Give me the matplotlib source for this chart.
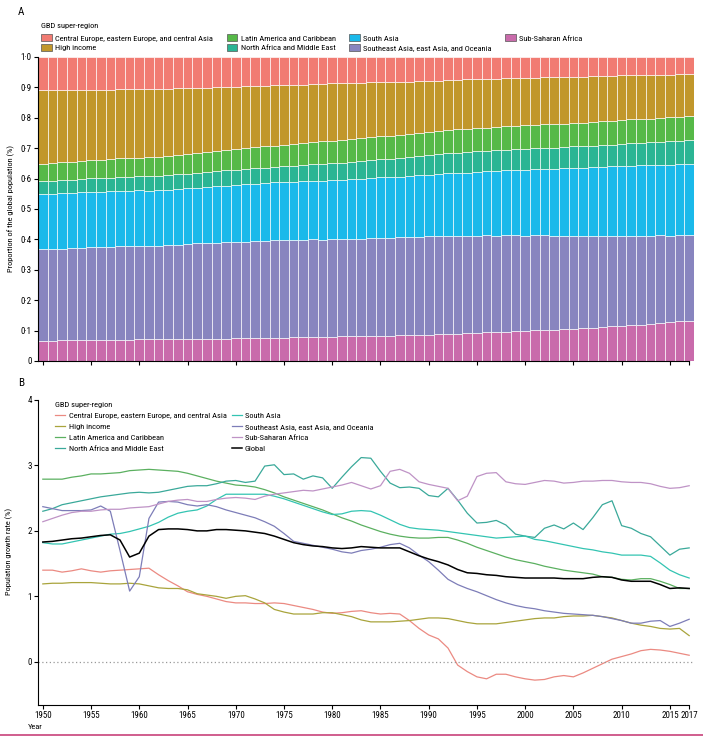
import numpy as np
import matplotlib
matplotlib.use("Agg")
from matplotlib import pyplot as plt
from matplotlib.lines import Line2D
from matplotlib.patches import Patch

plt.rcParams['font.family'] = ['Roboto Condensed', 'Liberation Sans Narrow', 'Lato', 'DejaVu Sans']
plt.rcParams['font.size'] = 6

years = list(range(1950, 2018))

regions = ["Central Europe, eastern Europe, and central Asia", "High income",
           "Latin America and Caribbean", "North Africa and Middle East",
           "South Asia", "Southeast Asia, east Asia, and Oceania", "Sub-Saharan Africa"]

# share of global population (panel A)
share_ce = [.109, .109, .108, .108, .108, .107, .107, .107, .106, .106,
            .105, .105, .104, .104, .103, .103, .102, .101, .100, .099,
            .098, .097, .096, .095, .094, .093, .092, .091, .090, .089,
            .087, .087, .086, .085, .084, .083, .083, .082, .081, .080,
            .079, .078, .076, .075, .074, .073, .072, .071, .070, .070,
            .069, .068, .067, .067, .066, .065, .065, .064, .063, .062,
            .061, .060, .060, .059, .058, .058, .057, .056]
share_hi = [.243, .241, .239, .237, .235, .233, .231, .229, .228, .227,
            .226, .225, .223, .221, .219, .217, .214, .212, .210, .208,
            .206, .204, .202, .200, .198, .196, .194, .192, .190, .189,
            .188, .186, .184, .182, .180, .178, .176, .174, .172, .170,
            .168, .166, .164, .163, .162, .161, .160, .159, .158, .157,
            .157, .156, .155, .155, .154, .153, .152, .151, .150, .149,
            .148, .146, .145, .144, .142, .141, .139, .138]
share_la = [.056, .057, .057, .058, .058, .059, .059, .060, .061, .061,
            .062, .062, .063, .063, .064, .064, .065, .066, .066, .067,
            .068, .068, .069, .070, .070, .071, .072, .073, .073, .074,
            .075, .075, .075, .076, .076, .076, .076, .077, .077, .077,
            .077, .077, .077, .077, .077, .077, .077, .077, .077, .077,
            .077, .077, .077, .077, .077, .077, .077, .078, .078, .078,
            .078, .078, .078, .078, .079, .079, .079, .079]
share_name = [.043, .043, .044, .044, .044, .045, .045, .045, .046, .046,
              .046, .047, .047, .047, .048, .048, .049, .049, .050, .050,
              .051, .051, .051, .052, .052, .053, .053, .054, .054, .055,
              .055, .056, .057, .058, .059, .060, .061, .062, .062, .063,
              .064, .065, .066, .066, .067, .067, .067, .068, .068, .068,
              .069, .069, .069, .069, .070, .070, .071, .071, .072, .072,
              .073, .074, .074, .075, .076, .077, .078, .079]
share_sa = [.182, .182, .182, .182, .182, .182, .182, .182, .182, .183,
            .183, .183, .183, .183, .183, .184, .184, .185, .186, .187,
            .188, .189, .190, .190, .191, .192, .192, .193, .193, .194,
            .194, .195, .196, .197, .198, .199, .200, .201, .202, .203,
            .203, .204, .205, .207, .208, .210, .211, .213, .214, .216,
            .217, .218, .220, .221, .223, .225, .226, .227, .228, .229,
            .230, .231, .231, .232, .232, .233, .233, .234]
share_sea = [.300, .301, .302, .303, .304, .305, .306, .307, .308, .308,
             .307, .306, .307, .308, .310, .312, .314, .315, .316, .317,
             .318, .319, .320, .320, .321, .321, .321, .321, .321, .321,
             .321, .321, .321, .321, .322, .322, .322, .323, .323, .323,
             .323, .323, .323, .322, .321, .320, .319, .318, .317, .316,
             .315, .313, .312, .310, .309, .307, .305, .303, .301, .299,
             .297, .295, .293, .291, .289, .286, .284, .281]
share_ssa = [.067, .067, .068, .068, .068, .069, .069, .069, .070, .070,
             .071, .071, .071, .072, .072, .073, .073, .073, .074, .074,
             .075, .075, .076, .076, .077, .077, .078, .078, .079, .079,
             .080, .081, .081, .082, .083, .084, .084, .085, .086, .087,
             .087, .088, .089, .090, .091, .093, .094, .095, .097, .098,
             .099, .101, .102, .103, .105, .107, .108, .110, .112, .114,
             .116, .118, .120, .122, .125, .127, .130, .133]

# population growth rate, % (panel B)
gr_ce = [1.40, 1.40, 1.37, 1.39, 1.42, 1.39, 1.37, 1.39, 1.40, 1.41,
         1.42, 1.43, 1.33, 1.24, 1.16, 1.07, 1.03, 1.00, 0.96, 0.92,
         0.90, 0.90, 0.89, 0.89, 0.90, 0.89, 0.86, 0.83, 0.80, 0.76,
         0.74, 0.75, 0.77, 0.78, 0.75, 0.73, 0.74, 0.73, 0.63, 0.51,
         0.41, 0.35, 0.21, -0.05, -0.15, -0.23, -0.26, -0.19, -0.19, -0.23,
         -0.26, -0.28, -0.27, -0.23, -0.21, -0.23, -0.17, -0.10, -0.03, 0.04,
         0.08, 0.12, 0.17, 0.19, 0.18, 0.16, 0.13, 0.10]
gr_hi = [1.19, 1.20, 1.20, 1.21, 1.21, 1.21, 1.20, 1.19, 1.19, 1.20,
         1.19, 1.16, 1.13, 1.12, 1.12, 1.10, 1.04, 1.02, 1.00, 0.97,
         1.00, 1.01, 0.96, 0.90, 0.80, 0.76, 0.73, 0.73, 0.73, 0.75,
         0.75, 0.72, 0.69, 0.64, 0.61, 0.61, 0.61, 0.62, 0.63, 0.65,
         0.67, 0.67, 0.66, 0.63, 0.60, 0.58, 0.58, 0.58, 0.60, 0.62,
         0.64, 0.66, 0.67, 0.67, 0.69, 0.70, 0.70, 0.71, 0.69, 0.67,
         0.63, 0.59, 0.56, 0.54, 0.51, 0.50, 0.51, 0.40]
gr_la = [2.79, 2.79, 2.79, 2.82, 2.84, 2.87, 2.87, 2.88, 2.89, 2.92,
         2.93, 2.94, 2.93, 2.92, 2.91, 2.88, 2.84, 2.80, 2.76, 2.73,
         2.70, 2.69, 2.67, 2.63, 2.58, 2.52, 2.47, 2.42, 2.37, 2.32,
         2.26, 2.20, 2.15, 2.09, 2.04, 1.99, 1.95, 1.92, 1.90, 1.89,
         1.89, 1.90, 1.90, 1.86, 1.81, 1.75, 1.70, 1.65, 1.60, 1.56,
         1.53, 1.50, 1.46, 1.43, 1.40, 1.38, 1.36, 1.34, 1.30, 1.29,
         1.26, 1.25, 1.27, 1.27, 1.23, 1.18, 1.12, 1.12]
gr_name = [2.30, 2.34, 2.40, 2.43, 2.46, 2.49, 2.52, 2.54, 2.56, 2.58,
           2.59, 2.58, 2.59, 2.62, 2.65, 2.68, 2.69, 2.69, 2.72, 2.76,
           2.77, 2.74, 2.76, 2.99, 3.01, 2.86, 2.87, 2.79, 2.84, 2.81,
           2.65, 2.82, 2.98, 3.12, 3.11, 2.91, 2.73, 2.66, 2.67, 2.65,
           2.54, 2.52, 2.65, 2.47, 2.27, 2.12, 2.13, 2.16, 2.09, 1.95,
           1.92, 1.90, 2.04, 2.09, 2.03, 2.12, 2.02, 2.20, 2.40, 2.46,
           2.08, 2.04, 1.96, 1.91, 1.77, 1.63, 1.72, 1.74]
gr_sa = [1.82, 1.80, 1.80, 1.83, 1.86, 1.89, 1.92, 1.95, 1.96, 1.99,
         2.03, 2.07, 2.13, 2.21, 2.27, 2.30, 2.32, 2.38, 2.48, 2.56,
         2.56, 2.56, 2.56, 2.56, 2.53, 2.49, 2.44, 2.39, 2.34, 2.29,
         2.25, 2.26, 2.30, 2.31, 2.30, 2.24, 2.17, 2.10, 2.05, 2.03,
         2.02, 2.01, 1.99, 1.97, 1.95, 1.93, 1.91, 1.89, 1.90, 1.91,
         1.92, 1.87, 1.85, 1.82, 1.79, 1.76, 1.73, 1.71, 1.68, 1.66,
         1.63, 1.63, 1.63, 1.61, 1.51, 1.40, 1.33, 1.28]
gr_sea = [2.37, 2.34, 2.31, 2.31, 2.31, 2.32, 2.38, 2.30, 1.70, 1.08,
          1.30, 2.19, 2.44, 2.45, 2.44, 2.40, 2.38, 2.40, 2.37, 2.32,
          2.28, 2.24, 2.20, 2.14, 2.07, 1.96, 1.84, 1.81, 1.78, 1.75,
          1.72, 1.68, 1.66, 1.70, 1.72, 1.75, 1.79, 1.81, 1.74, 1.63,
          1.53, 1.40, 1.26, 1.18, 1.12, 1.07, 1.01, 0.95, 0.90, 0.86,
          0.83, 0.81, 0.78, 0.76, 0.74, 0.73, 0.72, 0.71, 0.69, 0.66,
          0.63, 0.59, 0.59, 0.62, 0.63, 0.54, 0.59, 0.65]
gr_ssa = [2.14, 2.19, 2.24, 2.28, 2.30, 2.30, 2.32, 2.33, 2.33, 2.35,
          2.36, 2.37, 2.41, 2.45, 2.47, 2.48, 2.45, 2.45, 2.48, 2.50,
          2.51, 2.50, 2.48, 2.53, 2.56, 2.58, 2.60, 2.62, 2.61, 2.64,
          2.67, 2.70, 2.74, 2.69, 2.64, 2.69, 2.91, 2.94, 2.88, 2.75,
          2.71, 2.68, 2.65, 2.46, 2.53, 2.83, 2.88, 2.89, 2.75, 2.72,
          2.71, 2.74, 2.77, 2.76, 2.73, 2.74, 2.76, 2.76, 2.77, 2.77,
          2.75, 2.74, 2.74, 2.72, 2.68, 2.65, 2.66, 2.69]
gr_global = [1.83, 1.84, 1.86, 1.88, 1.89, 1.91, 1.93, 1.94, 1.86, 1.60,
             1.66, 1.92, 2.02, 2.03, 2.03, 2.02, 2.00, 2.00, 2.02, 2.02,
             2.01, 2.00, 1.98, 1.96, 1.92, 1.87, 1.82, 1.79, 1.77, 1.76,
             1.74, 1.73, 1.74, 1.76, 1.75, 1.74, 1.74, 1.74, 1.68, 1.62,
             1.57, 1.53, 1.48, 1.41, 1.36, 1.35, 1.33, 1.32, 1.30, 1.29,
             1.28, 1.28, 1.28, 1.28, 1.27, 1.27, 1.27, 1.29, 1.30, 1.29,
             1.25, 1.23, 1.23, 1.23, 1.18, 1.12, 1.13, 1.12]

bar_colors = ["#f17b72", "#c1972b", "#56b948", "#2bb594", "#1ab9ea", "#8885bf", "#c96bab"]
line_colors = ["#eb8a82", "#a9a43c", "#5bb060", "#3aa99a", "#33c4b2", "#7d7db8", "#bf93c6"]

tick_years = [1950, 1955, 1960, 1965, 1970, 1975, 1980, 1985, 1990, 1995, 2000, 2005, 2010, 2015, 2017]

fig = plt.figure(figsize=(7.03, 7.38), dpi=100)

# ---------------- panel A ----------------
axA = fig.add_axes([38/703, 1-361/738, 656/703, 304/738])
shares = [share_ssa, share_sea, share_sa, share_name, share_la, share_hi, share_ce]
cols = bar_colors[::-1]
tot = np.sum(np.array(shares), axis=0)
bottom = np.zeros(len(years))
for s, c in zip(shares, cols):
    v = np.array(s) / tot
    axA.bar(years, v, width=1.0, bottom=bottom, color=c, edgecolor="white", linewidth=0.45)
    bottom += v
axA.set_xlim(1949.5, 2017.5)
axA.set_ylim(0, 1)
axA.set_yticks(np.arange(0, 1.01, 0.1))
axA.set_yticklabels(["0"] + ["0·%d" % i for i in range(1, 10)] + ["1·0"])
axA.set_xticks(tick_years)
axA.set_xticklabels([])
axA.spines['top'].set_visible(False)
axA.spines['right'].set_visible(False)
axA.spines['bottom'].set_bounds(1949.5, 2017)
axA.tick_params(length=3, width=0.8, labelsize=6.5, pad=1.5)
axA.set_ylabel("Proportion of the global population (%)", fontsize=6, labelpad=4)
handles = [Patch(facecolor=c, edgecolor="#555555", linewidth=0.5) for c in bar_colors]
legA = axA.legend(handles, regions, ncol=4, loc="lower left", bbox_to_anchor=(-0.004, 1.0),
                  frameon=False, fontsize=6, title="GBD super-region", title_fontsize=6,
                  handlelength=1.3, handleheight=0.9, handletextpad=0.4, columnspacing=1.6,
                  labelspacing=0.25, borderpad=0.2)
legA._legend_box.align = "left"
legA._legend_box.sep = 4
fig.text(18/703, 1-12/738, "A", fontsize=8, ha="left", va="center")

# ---------------- panel B ----------------
axB = fig.add_axes([38/703, 1-705/738, 656/703, 307/738])
series = [gr_ce, gr_hi, gr_la, gr_name, gr_sa, gr_sea, gr_ssa]
for g, c, lab in zip(series, line_colors, regions):
    axB.plot(years, g, color=c, linewidth=0.9, label=lab)
axB.plot(years, gr_global, color="black", linewidth=1.1, label="Global")
axB.axhline(0, color="#999999", linewidth=0.9, linestyle=(0, (1, 2)))
axB.set_xlim(1949.5, 2017.5)
axB.set_ylim(-0.66, 4.03)
axB.set_yticks([0, 1, 2, 3, 4])
axB.set_xticks(tick_years)
axB.set_xticklabels([str(y) for y in tick_years])
axB.spines['top'].set_visible(False)
axB.spines['right'].set_visible(False)
axB.spines['bottom'].set_bounds(1949.5, 2017)
axB.spines['left'].set_bounds(-0.66, 4.0)
axB.tick_params(length=3, width=0.8, labelsize=6.5, pad=1.5)
axB.set_ylabel("Population growth rate (%)", fontsize=6, labelpad=10)
h, l = axB.get_legend_handles_labels()
legB = axB.legend(h, l, ncol=2, loc="upper left", bbox_to_anchor=(0.015, 1.012), frameon=False,
                  fontsize=6, title="GBD super-region", title_fontsize=6,
                  handlelength=1.2, handletextpad=0.4, columnspacing=0.6, labelspacing=0.5)
legB._legend_box.align = "left"
fig.text(28/703, 1-727/738, "Year", fontsize=6, ha="left", va="center")
fig.text(18/703, 1-383/738, "B", fontsize=8, ha="left", va="center")

fig.add_artist(Line2D([0, 1], [1-735/738, 1-735/738], color="#c8427a", linewidth=1.2))

fig.savefig("out.png", dpi=100)
